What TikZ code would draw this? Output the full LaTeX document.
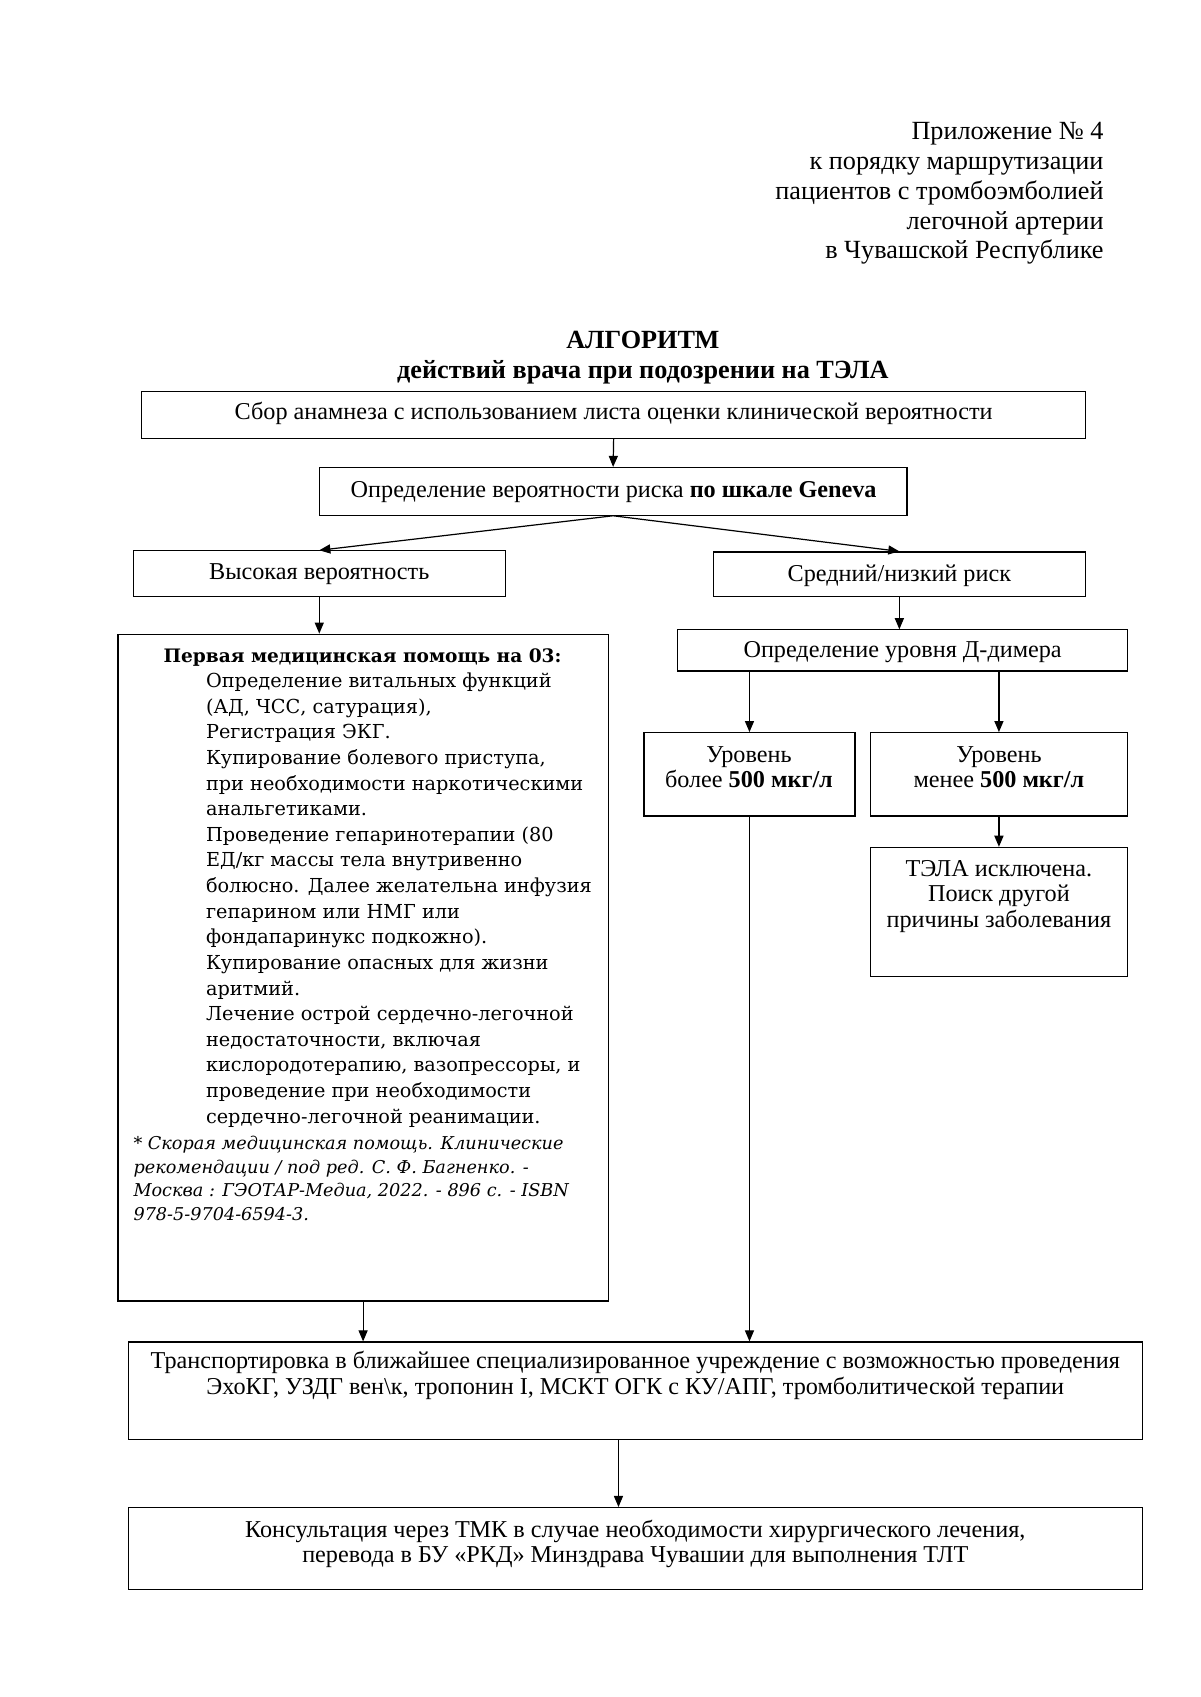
\documentclass[tikz,border=0pt]{standalone}
\usepackage{fontspec}
\setmainfont{Liberation Serif}
\newfontfamily\djv{DejaVu Serif}
\usetikzlibrary{arrows.meta,fit,calc}
\newcommand\tstr{\rule{0pt}{12pt}}
\begin{document}
\begin{tikzpicture}[x=0.5365pt,y=-0.5365pt,
  box/.style={draw,line width=0.6pt,inner sep=0pt},
  arr/.style={-{Triangle[length=5.5pt,width=4.5pt]},line width=0.6pt},
  txt/.style={inner sep=0pt,align=center,anchor=north,font=\fontsize{12}{12.9}\selectfont},
  djtxt/.style={inner sep=0pt,align=left,anchor=north west,font=\djv\fontsize{9.55}{12.7}\selectfont},
]
\useasboundingbox (0,0) rectangle (1109,1568);

% header
\node[inner sep=0pt,align=right,anchor=north east,font=\fontsize{13}{14.8}\selectfont] (hdr) at (1020,106.1)
  {\tstr Приложение № 4\\к порядку маршрутизации\\пациентов с тромбоэмболией\\легочной артерии\\в Чувашской Республике};

% title
\node[inner sep=0pt,align=center,anchor=north,font=\bfseries\fontsize{13}{15.2}\selectfont] (title) at (594,299)
  {\tstr АЛГОРИТМ\\действий врача при подозрении на ТЭЛА};

% boxes
\node[box,fit={(131,362)(1003,405)}] (b1) {};
\node[txt] (b1t) at (567,364.6) {\tstr Сбор анамнеза с использованием листа оценки клинической вероятности};
\node[box,fit={(295,432)(838,476)}] (b2) {};
\node[txt] (b2t) at (567,436.6) {\tstr Определение вероятности риска \textbf{по шкале Geneva}};
\node[box,fit={(123,509)(467,551)}] (b3) {};
\node[txt] (b3t) at (295,512.6) {\tstr Высокая вероятность};
\node[box,fit={(659,510)(1003,551)}] (b4) {};
\node[txt] (b4t) at (831,514.6) {\tstr Средний/низкий риск};
\node[box,fit={(626,582)(1042,620)}] (dim) {};
\node[txt] (dimt) at (834,585.1) {\tstr Определение уровня Д-димера};

% big box
\node[box,fit={(109,586)(562,1202)}] (big) {};
\node[inner sep=0pt,anchor=north,font=\djv\bfseries\fontsize{9.2}{12.7}\selectfont] (bigh) at (335,589.6)
  {\tstr Первая медицинская помощь на 03:};
\node[djtxt] (bigt) at (190,612.6)
  {\tstr Определение витальных функций\\
   (АД, ЧСС, сатурация),\\
   Регистрация ЭКГ.\\
   Купирование болевого приступа,\\
   при необходимости наркотическими\\
   анальгетиками.\\
   Проведение гепаринотерапии (80\\
   ЕД/кг массы тела внутривенно\\
   болюсно. Далее желательна инфузия\\
   гепарином или НМГ или\\
   фондапаринукс подкожно).\\
   Купирование опасных для жизни\\
   аритмий.\\
   Лечение острой сердечно-легочной\\
   недостаточности, включая\\
   кислородотерапию, вазопрессоры, и\\
   проведение при необходимости\\
   сердечно-легочной реанимации.};
\node[inner sep=0pt,align=left,anchor=north west,font=\djv\itshape\fontsize{8.75}{11.65}\selectfont] (bigf) at (123,1039.6)
  {\tstr * Скорая медицинская помощь. Клинические\\
   рекомендации / под ред. С. Ф. Багненко. -\\
   Москва : ГЭОТАР-Медиа, 2022. - 896 с. - ISBN\\
   978-5-9704-6594-3.};

% D-dimer levels
\node[box,fit={(595,677)(790,754)}] (more) {};
\node[txt,font=\fontsize{12}{12.4}\selectfont] (moret) at (692,681.5) {\tstr Уровень\\более \textbf{500 мкг/л}};
\node[box,fit={(804,677)(1042,754)}] (less) {};
\node[txt,font=\fontsize{12}{12.4}\selectfont] (lesst) at (923,681.5) {\tstr Уровень\\менее \textbf{500 мкг/л}};
\node[box,fit={(804,783)(1042,902)}] (excl) {};
\node[txt,font=\fontsize{12}{12.6}\selectfont] (exclt) at (923,787.1) {\tstr ТЭЛА исключена.\\Поиск другой\\причины заболевания};

% transport and consultation
\node[box,fit={(119,1240)(1056,1330)}] (trans) {};
\node[txt] (transt) at (587,1242.1)
  {\tstr Транспортировка в ближайшее специализированное учреждение с возможностью проведения\\
   ЭхоКГ, УЗДГ вен\textbackslash к, тропонин I, МСКТ ОГК с КУ/АПГ, тромболитической терапии};
\node[box,fit={(119,1393)(1056,1469)}] (last) {};
\node[txt,font=\fontsize{12}{12.4}\selectfont] (lastt) at (587,1397.6)
  {\tstr Консультация через ТМК в случае необходимости хирургического лечения,\\
   перевода в БУ «РКД» Минздрава Чувашии для выполнения ТЛТ};

% connectors
\draw[arr] (b1.south) -- (b2.north);
\draw[arr] (b2.south) -- (b3.north);
\draw[arr] (b2.south) -- (b4.north);
\draw[arr] (b3.south) -- (b3.south |- big.north);
\draw[arr] (b4.south) -- (b4.south |- dim.north);
\draw[arr] (dim.south -| more.north) -- (more.north);
\draw[arr] (dim.south -| less.north) -- (less.north);
\draw[arr] (less.south) -- (excl.north);
\draw[arr] (more.south) -- (more.south |- trans.north);
\draw[arr] (big.south) -- (big.south |- trans.north);
\draw[arr] ([xshift=-8.6pt]trans.south) -- ([xshift=-8.6pt]last.north);
\end{tikzpicture}
\end{document}
